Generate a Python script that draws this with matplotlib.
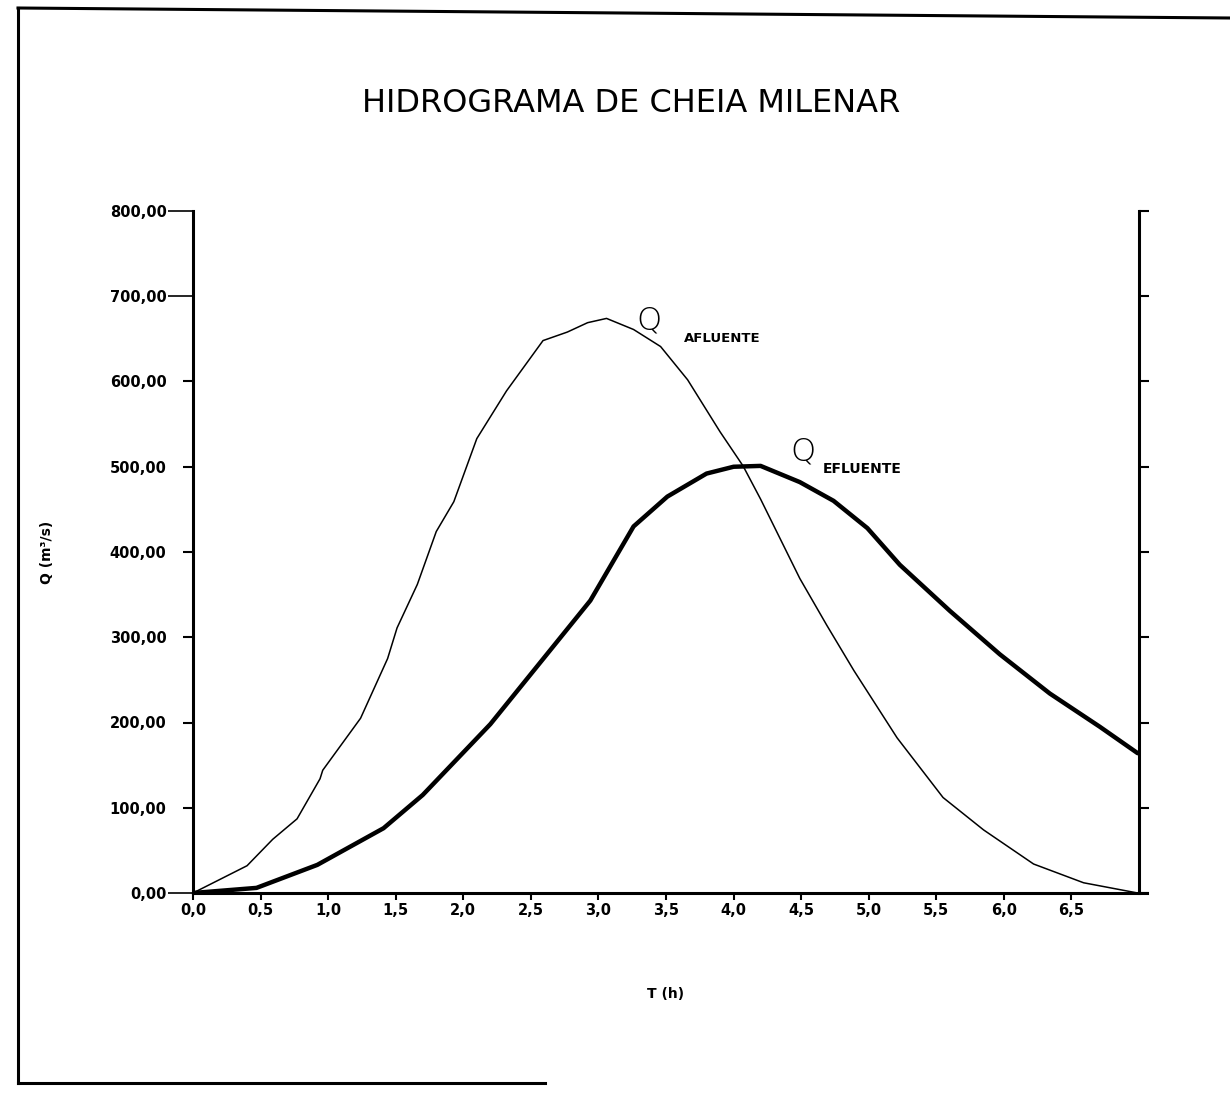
import matplotlib
matplotlib.use("Agg")
import matplotlib.pyplot as plt
from matplotlib.lines import Line2D

# Data
t_afluente = [0.0, 0.40, 0.59, 0.77, 0.94, 0.96, 1.24, 1.44, 1.51, 1.66, 1.80, 1.93,
              2.10, 2.32, 2.59, 2.77, 2.92, 3.06, 3.26, 3.46, 3.66, 3.90, 4.07, 4.20,
              4.49, 4.69, 4.89, 5.21, 5.55, 5.85, 6.22, 6.59, 6.99]
q_afluente = [0, 32, 63, 87, 134, 144, 205, 275, 311, 362, 424, 459,
              533, 589, 648, 658, 669, 674, 661, 641, 602, 541, 501, 462,
              369, 314, 261, 182, 112, 74, 34, 12, 0]

t_efluente = [0.0, 0.47, 0.92, 1.41, 1.70, 2.20, 2.94, 3.26, 3.51, 3.80, 4.00, 4.20,
              4.49, 4.74, 4.99, 5.23, 5.60, 5.97, 6.34, 6.71, 6.99]
q_efluente = [0, 6, 33, 76, 115, 198, 343, 430, 465, 492, 500, 501,
              482, 460, 428, 385, 331, 280, 234, 195, 164]

x_ticks = [0.0, 0.5, 1.0, 1.5, 2.0, 2.5, 3.0, 3.5, 4.0, 4.5, 5.0, 5.5, 6.0, 6.5]
x_ticklabels = ["0,0", "0,5", "1,0", "1,5", "2,0", "2,5", "3,0", "3,5",
                "4,0", "4,5", "5,0", "5,5", "6,0", "6,5"]
y_ticks = [0, 100, 200, 300, 400, 500, 600, 700, 800]
y_ticklabels = ["0,00", "100,00", "200,00", "300,00", "400,00",
                "500,00", "600,00", "700,00", "800,00"]

title = "HIDROGRAMA DE CHEIA MILENAR"
xlabel = "T (h)"
ylabel = "Q (m³/s)"

fig = plt.figure(figsize=(12.30, 10.99), dpi=100)
ax = fig.add_axes([193/1230, 1 - 893/1099, (1139-193)/1230, (893-211)/1099])

ax.plot(t_afluente, q_afluente, color="black", lw=1.1)
ax.plot(t_efluente, q_efluente, color="black", lw=3.2,
        solid_capstyle="round", solid_joinstyle="round")

ax.set_xlim(0, 7)
ax.set_ylim(0, 800)

ax.spines["top"].set_visible(False)
for s in ("left", "bottom", "right"):
    ax.spines[s].set_linewidth(2.2)
ax.spines["bottom"].set_bounds(0, 7.06)

ax.set_xticks(x_ticks)
ax.set_xticklabels(x_ticklabels, fontsize=10.5, fontweight="bold")
ax.set_yticks(y_ticks)
ax.set_yticklabels(y_ticklabels, fontsize=10.5, fontweight="bold")
ax.tick_params(axis="x", direction="out", length=5, width=1.5, pad=2)
ax.tick_params(axis="y", direction="out", length=7, width=1.5, pad=12,
               right=True, labelright=False)
# longer lead lines on some y ticks as in the reference
for tk, v in zip(ax.yaxis.get_major_ticks(), y_ticks):
    if v in (0, 700, 800):
        tk.tick1line.set_markersize(18)
        tk.tick1line.set_markeredgewidth(1.2)

ax.set_xlabel(xlabel, fontsize=10, fontweight="bold", labelpad=50)
ax.set_ylabel(ylabel, fontsize=10, fontweight="bold", labelpad=40)

fig.text(631/1230, 1 - 103/1099, title, ha="center", va="center",
         fontsize=23, fontweight="normal", family="DejaVu Sans")

# curve labels
ax.text(3.28, 672, "Q", fontsize=23, ha="left", va="center", fontweight="light")
ax.text(3.63, 650, "AFLUENTE", fontsize=9.5, ha="left", va="center", fontweight="bold")
ax.text(4.42, 518, "Q", fontsize=23, ha="left", va="center", fontweight="light")
ax.text(4.66, 497, "EFLUENTE", fontsize=10, ha="left", va="center", fontweight="bold")

# outer frame of the scanned page
fw, fh = 1230, 1099
def fl(x0, y0, x1, y1, lw=2.2):
    fig.add_artist(Line2D([x0/fw, x1/fw], [1 - y0/fh, 1 - y1/fh],
                          transform=fig.transFigure, color="black", lw=lw))
fl(18, 8, 1230, 18)
fl(18, 8, 18, 1083)
fl(18, 1083, 545, 1083)

fig.savefig("out.png", dpi=100, facecolor="white")
